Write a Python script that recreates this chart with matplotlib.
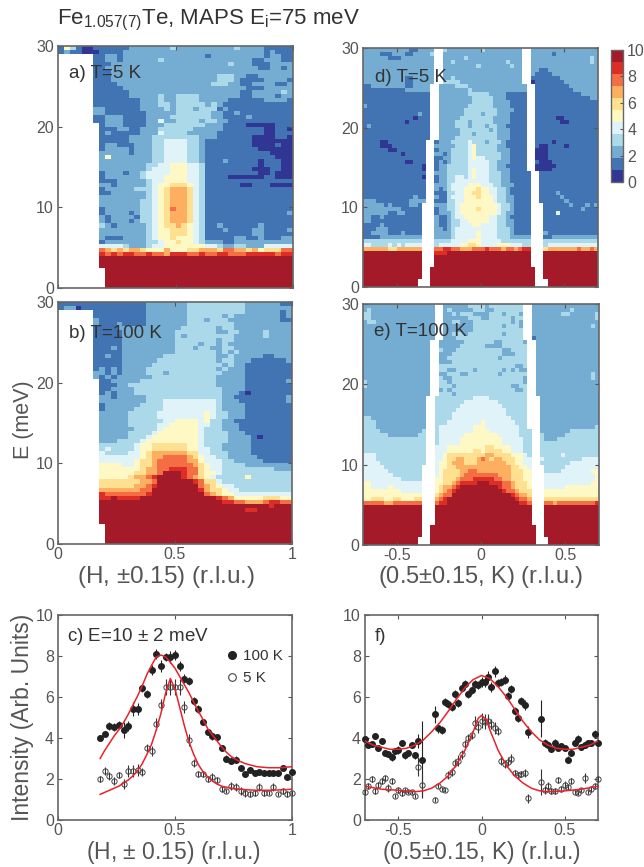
import numpy as np
import matplotlib
matplotlib.use("Agg")
import matplotlib.pyplot as plt
from matplotlib.colors import ListedColormap
from matplotlib.lines import Line2D

plt.rcParams['font.family'] = ['Liberation Sans', 'DejaVu Sans']
plt.rcParams['mathtext.fontset'] = 'custom'
plt.rcParams['mathtext.rm'] = 'Liberation Sans'
plt.rcParams['mathtext.default'] = 'regular'

# colour level per cell, top row is E=30 meV, '.' = no data, a = top level
map_a = [
"1531001111 1122222223 2222222222 3222211111",
"1211000111 1222222222 2222222222 2222212111",
"......1122 1222222222 2222212222 2222212211",
"......1122 1222222322 2222222222 2221122211",
"......1112 2222222222 2222222223 2221112222",
"......1122 2222222222 2222222222 2222112212",
"......1112 2222222222 2222222222 2222222222",
"......1112 2222222222 2222222333 2211222222",
"......1112 2222222222 2222222333 2111122221",
"......1111 2222222222 2222223332 2112222112",
"......1111 1222222222 2222222222 2211122222",
"......1111 1122222222 2222222222 2112222232",
"......1111 1122222322 3333222222 2112222122",
"......1111 1111222322 3333222221 1111122221",
"......1111 1111222332 3333323211 1111111111",
"......2211 1111222232 3332333121 1111111111",
"......2211 1111122222 3333332211 2111111111",
"......1122 2111122223 3333332211 1121111111",
"......1122 2111122422 3333233221 1111111111",
".......122 2111122233 3333322211 1100000111",
".......111 2211222333 3332222211 1111100110",
".......121 1111222433 3322222111 1111100111",
".......111 1122223333 3333222111 1110000110",
".......111 1122223344 4433211111 1110000000",
".......122 1112223344 4433211111 1110000100",
".......122 2212223344 4433211111 1111000000",
".......222 2212223344 4433211111 1111110000",
".......252 2222223344 4433211111 1111111000",
".......222 2222223344 4433211121 1111011100",
".......222 2222233445 5544311111 1111011100",
".......222 2222234445 5544311111 1110001100",
".......122 2122344445 5544311111 1111001000",
".......122 2222344455 5544311110 0000011000",
".......111 2222234455 5544311111 1111111111",
".......221 2222234556 6654311111 1001110000",
".......122 2223334567 7764311111 1111111111",
".......112 2222234567 7764311111 1111111111",
".......222 2222234567 7764311111 1111111111",
".......222 2222334567 7764311111 1111111111",
".......222 2222334567 7764311111 1111111111",
".......122 2222334568 7764311111 1111111111",
".......122 2212334567 7764311111 1111111112",
".......212 2221334567 7764311111 1111111111",
".......212 2212334567 7764311111 1111111111",
".......321 2222234566 7654311211 1111211111",
".......222 2222234556 6654311121 1112211112",
".......222 2222234556 6654311111 1112211111",
".......211 1222234556 5554311111 2211211122",
".......122 2222233455 6554322211 2222222222",
".......444 4322234455 5555544322 3322244444",
".......876 7677655575 5566777688 7767566688",
".......989 8998898879 9988988998 8899999899",
".......aaa aaaaaaaaaa aaaaaaaaaa aaaaaaaaaa",
".......aaa aaaaaaaaaa aaaaaaaaaa aaaaaaaaaa",
".......aaa aaaaaaaaaa aaaaaaaaaa aaaaaaaaaa",
"........aa aaaaaaaaaa aaaaaaaaaa aaaaaaaaaa",
"........aa aaaaaaaaaa aaaaaaaaaa aaaaaaaaaa",
"........aa aaaaaaaaaa aaaaaaaaaa aaaaaaaaaa",
"........aa aaaaaaaaaa aaaaaaaaaa aaaaaaaaaa",
"........aa aaaaaaaaaa aaaaaaaaaa aaaaaaaaaa",
]

map_b = [
"1111111111 1111122222 2233333333 3322222211",
"1220111111 1111122222 2233333333 3322222222",
"......1111 1111122222 2233333333 3322222212",
"......1111 1111122222 2233333323 2222222212",
"......2111 1111122222 2233323332 2222222211",
"......2111 2111122222 2233333333 2222222222",
"......1111 2222222222 2333333233 2222222222",
"......1111 1222222222 3333333223 3222232222",
"......1111 1222222222 3233333333 2222232222",
"......1111 1222222222 3333333233 2222222222",
"......1111 1222222222 3333233232 2222222222",
"......1112 1222222222 3332332233 2222222222",
"......1111 1222222222 3333333232 3222222222",
"......1121 1222222233 3333333223 2222211222",
"......1111 1222222333 3333333233 2221111112",
"......1111 1222223333 3333333323 2211111111",
"......1212 1222233333 3333333232 2211111111",
"......2212 1222233323 3333333322 2211111111",
"......2121 2222223333 3333333222 2211111111",
".......112 2222333333 3333333222 2211111112",
".......111 2233333333 3333333222 2211111111",
".......112 2223333333 3333333322 2211111111",
".......121 2223333333 3333333322 2101111111",
".......221 2222233333 3333333322 1111111112",
".......222 2222233344 4444444322 2111111112",
".......122 2222333344 4444444322 2211111111",
".......122 2223333344 4444444322 2211111111",
".......222 2233333444 4444454332 2211111111",
".......222 2233333444 4444454332 2211111111",
".......222 2233333344 5555453322 1111111111",
".......222 2233333445 5555443322 2111111111",
".......222 2223333455 5555433322 2111111111",
".......222 2233334555 5555433332 2211111111",
".......222 2233345555 5555433332 2221011111",
".......222 3333455555 5555433332 2221111111",
".......333 3334556666 6655433322 2221111111",
".......343 3334556666 6655443322 2221111111",
".......433 3344567777 7766443332 2221111111",
".......444 4444567788 8876544332 2222111111",
".......444 4445667888 8877544433 2222211111",
".......555 5445667888 8887654433 3322222222",
".......555 5555677889 9988654433 3333333222",
".......555 5556677 8aa a98865 5433 3333333333",
".......555 5567789 aa aa9876 5433 3 3353333333",
".......666 666677 8aaa aaa986 6433 3333333333",
".......666 666778 9aaa aaaa87 6544 3333333333",
".......777 777788 aaaa aaaa97 6654 4333333333",
".......988 888889 aaaa aaaaa8 7655 4444444444",
".......99a 9999aa aaaa aaaaaa a987 5555566655",
".......aaa aaaaaaaaaa aaaaaaaa 99 8877789 98",
".......aaa aaaaaaaaaa aaaaaaaaaa aaaaaa9aaa",
".......aaa aaaaaaaaaa aaaaaaaaaa aa99aaaaaa",
".......aaa aaaaaaaaaa aaaaaaaaaa aaaaaaaaaa",
".......aaa aaaaaaaaaa aaaaaaaaaa aaaaaaaaaa",
".......aaa aaaaaaaaaa aaaaaaaaaa aaaaaaaaaa",
"........aa aaaaaaaaaa aaaaaaaaaa aaaaaaaaaa",
"........aa aaaaaaaaaa aaaaaaaaaa aaaaaaaaaa",
"........aa aaaaaaaaaa aaaaaaaaaa aaaaaaaaaa",
"........aa aaaaaaaaaa aaaaaaaaaa aaaaaaaaaa",
"........aa aaaaaaaaaa aaaaaaaaaa aaaaaaaaaa",
]

map_d = [
"2222222222 2112222223 2222222232 2222222222 2222222222 222222",
"2222111222 1122223222 2222222222 2222222222 2222212222 222222",
"2222221112 2222222222 2222322222 2222222222 2222222222 222232",
"2222222222 2222222222 2322222222 2222322222 2222222222 222232",
"2222222222 2222222232 2222222322 2222232222 2222222222 222222",
"2222222222 2222222222 2222222222 2222222222 2211222222 222222",
"2222222222 2222222222 2222222222 2222222222 2111122222 222222",
"2222222222 1122222222 2322222222 2222222222 1111111222 222222",
"2222222222 1122222223 3332222222 2222222222 0111111122 222222",
"1122222222 1122222222 2233322222 2222222222 1111111112 222222",
"1111111111 2222222222 2222232222 2222222222 1111111111 222222",
"1111111111 1111112222 2222233333 2222111111 1111111111 112222",
"1111111111 1111111222 2222223333 3222111111 1111111111 111122",
"1111111111 1111111222 2222223333 3222211111 1111111111 111111",
"2111111111 1111111222 2222233333 3222211111 1111111111 111111",
"1111111111 1111111222 2222333333 3322221111 1111111111 111111",
"1111111111 1112110222 2222333323 3322211111 1111111111 111111",
"1111111111 1101110122 2223333333 3222211111 1111110011 111111",
"1111111111 0111110122 2233323333 3222211111 1111111001 111111",
"1211111111 1111110122 2233323332 3322111111 1111111111 111111",
"1111111111 1111110122 2223333333 2322211111 1111111111 111111",
"1111111111 1111110122 2223332333 3322211111 1111111111 111111",
"1111111111 1111110122 2233333333 3322211111 1111111111 111111",
"1111001111 1111110122 2333343332 3332111111 1111101111 111111",
"1111000111 1111111222 2233345333 3322111111 1100111101 111111",
"1111110011 1111111122 2333345333 3322211111 0000111111 111111",
"1111111110 1111111221 2333345333 3332211111 1000111111 111111",
"1111111111 1111111112 2333345443 3332211111 1000111111 111111",
"1111111111 0011111121 2333344444 3322211111 1100011111 111111",
"1111111111 1111011122 3333344444 3322111111 1000001111 111111",
"1111111111 1111011122 3333345444 3322211111 1000011111 111111",
"1111111111 1111111222 3333345444 3332211111 1111111111 111111",
"1111111111 1111011122 3344345444 3332211111 1111111111 111111",
"1111111111 1111111122 3344444444 3332211111 1111111111 111111",
"1111111111 1111111222 3444455544 4332221111 1111111111 111111",
"1111111111 1111111212 3444555655 4433211111 1111111111 111111",
"1111111111 1111122111 3344556655 4433211111 1111112111 111111",
"1111111111 1121122211 3444555655 5433221111 1111111211 111111",
"2221111111 1222221111 3344555555 5433221111 1111111121 111111",
"2222212111 1221111222 3345555555 5543321111 1111111112 111212",
"2222222221 1111111122 3345555655 5543321111 1111111111 112111",
"2222221122 1111111122 2345555555 5543221111 1111114111 111111",
"2211211111 1111111211 2344555555 4433211111 1111111111 111111",
"2211111111 1111111211 2334455555 4433221111 1111111111 111111",
"1111211111 1111111211 2334445544 4433221111 1111111111 111111",
"1112221111 1111112221 2344444444 4433321111 1111111111 111111",
"1122221112 1111112222 2344444544 4433321111 1112111111 111111",
"1111222222 2222222222 2344444544 4433322222 2211122222 222222",
"3333333333 3333333333 3444455544 4443333333 3333333333 333333",
"4433334343 4444333344 4445566544 4455544433 3343444444 444444",
"7777776677 7777777889 9887778889 8887887899 8876777777 787787",
"aaaaaaaaaa aaaaa99999 aaaaaaaaaa aaaaaaaaaa 9aaaaaaaaa aaaaaa",
"aaaaaaaaaa aaaaaaaaaa aaaaaaaaaa aaaaaaaaaa aaaaaaaaaa aaaaaa",
"aaaaaaaaaa aaaaaaaaaa aaaaaaaaaa aaaaaaaaaa aaaaaaaaaa aaaaaa",
"aaaaaaaaaa aaaaaaaaaa aaaaaaaaaa aaaaaaaaaa aaaaaaaaaa aaaaaa",
"aaaaaaaaaa aaaaaaaaaa aaaaaaaaaa aaaaaaaaaa aaaaaaaaaa aaaaaa",
"aaaaaaaaaa aaaaaaaaaa aaaaaaaaaa aaaaaaaaaa aaaaaaaaaa aaaaaa",
"aaaaaaaaaa aaaaaaaaaa aaaaaaaaaa aaaaaaaaaa aaaaaaaaaa aaaaaa",
"aaaaaaaaaa aaaaaaaaaa aaaaaaaaaa aaaaaaaaaa aaaaaaaaaa aaaaaa",
"aaaaaaaaaa aaaaaaaaaa aaaaaaaaaa aaaaaaaaaa aaaaaaaaaa aaaaaa",
]

map_e = [
"2222222222 2222222222 2222233332 3333333322 2222222222 222222",
"2322222222 2222222222 3222223332 2333333322 2222222223 222222",
"3322222222 2222222222 2323332222 3332333222 2222222332 222223",
"3322222222 2222222222 2222233322 3333323322 2222222222 222223",
"2332222222 2222222222 2332223333 3333323222 2222222222 222222",
"2222222222 2222222222 2222223333 3332333222 2222222222 222232",
"2222222222 2222222222 2222223333 3333333322 2222222222 222222",
"2222222222 2222222222 2333233333 3332333322 2222222222 222222",
"2222222222 2222222a22 2233333333 3333333322 1222222222 222222",
"2222222222 2222222222 2222333333 3223333322 2222222222 222222",
"2222222222 2222222222 2223333332 2223333332 2222222222 222222",
"2222222222 2222222232 2233333333 3332233333 2222222222 222222",
"2222222222 2222222222 2333333333 3332223332 2222222222 222222",
"2222222222 2222222222 3333333333 3323333333 2222222222 222222",
"2222222222 2222222222 2333333333 3333333332 2222222222 222222",
"2222222222 2222222233 3333333333 3333332232 2222222222 222222",
"2222222222 2222222233 2233332333 3332323222 2222222222 222222",
"2222222222 2222223322 3332233333 3323333332 2222222222 222232",
"2222222222 2222221332 2333333333 3333333322 2222222222 222232",
"3222222222 2222222233 2333333333 3333333322 2222222222 222222",
"3222222222 2222222333 3233333333 3333322332 2222222222 222222",
"2222222222 2222222323 2333333333 3333332233 1222222222 222222",
"2222222222 2222222333 3233333333 3333333332 2222222222 222222",
"2222222222 2222223333 3333334444 3333333333 2222222222 222222",
"2222222222 2222223333 3333444444 4433333333 3222222222 222222",
"2222222222 2222223333 3334444444 4443333333 3222222222 222222",
"2222222222 2222223333 3344444444 4444333333 3322222222 222222",
"2222222222 2222223333 3444444444 4444333333 3322222222 222222",
"3322222222 2222223333 3444444444 4444433333 3322222222 222222",
"3332222222 2222223333 4444444454 4444443333 3322222222 222222",
"3332222222 2222233344 4444445554 4444444333 3322222222 222223",
"3333222222 2222333344 4444445555 4444444333 3322222223 333333",
"3333332222 2223333344 4444555555 5544444333 3332222233 333333",
"3333333333 3333333344 4445555555 5554444433 3332223333 333333",
"3333333333 3333333344 4445555555 5554444433 3333333333 333333",
"3333333333 3333333444 5555555556 6555544433 3333333333 333333",
"3333333333 3333333444 5555556656 6665544433 3333333333 333333",
"4443333333 3333333445 6666666667 7666655543 3333333433 333333",
"4443333333 3333333445 6677666787 6776665544 3343333333 334444",
"4444333333 3333333455 6777666777 7777665544 4333333334 444444",
"4444433333 3333332455 6677777777 7777766554 4433333344 444444",
"4444443333 3333333456 6667788777 7777766655 4443333444 444455",
"4444444333 3333334456 6667888888 8877766655 4444444444 444445",
"4444444443 3333344556 6678889999 9887766655 4444444444 444445",
"5544444444 4444444556 6789999aaa 9998876665 4444444444 444455",
"5544445444 4444445567 789aaaaaaa aa98876665 5444444455 555555",
"5555555554 4444555567 89aaaaaaaa aaa9887666 5555555555 555555",
"5555555555 5555555678 8aaaaaaaaa aaaaa98776 5555555555 555555",
"5566655665 5566666789 aaaaaaaaaa aaaaaa9887 7666666666 666666",
"8888877888 8888888899 aaaaaaaaaa aaaaaaa998 8888878888 888889",
"aaaaaaaaaa aaaaaaaaaa aaaaaaaaaa aaaaaaaaaa aaaaaaaaaa aaaaaa",
"aaaaaaaaaa aaaaaaaaaa aaaaaaaaaa aaaaaaaaaa aaaaaaaaaa aaaaaa",
"aaaaaaaaaa aaaaaaaaaa aaaaaaaaaa aaaaaaaaaa aaaaaaaaaa aaaaaa",
"aaaaaaaaaa aaaaaaaaaa aaaaaaaaaa aaaaaaaaaa aaaaaaaaaa aaaaaa",
"aaaaaaaaaa aaaaaaaaaa aaaaaaaaaa aaaaaaaaaa aaaaaaaaaa aaaaaa",
"aaaaaaaaaa aaaaaaaaaa aaaaaaaaaa aaaaaaaaaa aaaaaaaaaa aaaaaa",
"aaaaaaaaaa aaaaaaaaaa aaaaaaaaaa aaaaaaaaaa aaaaaaaaaa aaaaaa",
"aaaaaaaaaa aaaaaaaaaa aaaaaaaaaa aaaaaaaaaa aaaaaaaaaa aaaaaa",
"aaaaaaaaaa aaaaaaaaaa aaaaaaaaaa aaaaaaaaaa aaaaaaaaaa aaaaaa",
"aaaaaaaaaa aaaaaaaaaa aaaaaaaaaa aaaaaaaaaa aaaaaaaaaa aaaaaa",
]

# detector gaps in the K maps: first row, last row, first col, last col
gaps_d = [(0, 8, 17, 18), (0, 8, 38, 39), (9, 22, 16, 17), (9, 30, 39, 40),
          (23, 38, 15, 16), (31, 38, 40, 41), (39, 54, 14, 16), (39, 54, 40, 42),
          (55, 57, 14, 15), (55, 57, 41, 42), (58, 59, 13, 15), (58, 59, 41, 43)]
gaps_e = [(0, 8, 17, 18), (0, 8, 38, 39), (9, 22, 16, 17), (9, 22, 39, 40),
          (23, 39, 15, 16), (23, 30, 39, 41), (31, 39, 40, 41), (40, 54, 14, 16),
          (40, 54, 40, 42), (55, 57, 14, 15), (55, 57, 41, 42), (58, 59, 13, 15),
          (58, 59, 41, 43)]

colors = ['#313695', '#4273b3', '#74add1', '#abd9e9', '#e0f3f8', '#fdf8c4',
          '#fee090', '#fdae61', '#f46d43', '#dc2e26', '#a51a28']

# panel c
h_pts = [0.18, 0.20, 0.22, 0.24, 0.26, 0.28, 0.30, 0.32, 0.34, 0.36, 0.38, 0.40, 0.42, 0.44,
         0.46, 0.48, 0.50, 0.52, 0.54, 0.56, 0.58, 0.60, 0.62, 0.64, 0.66, 0.68, 0.70, 0.72,
         0.74, 0.76, 0.78, 0.80, 0.82, 0.84, 0.86, 0.88, 0.90, 0.92, 0.94, 0.96, 0.98, 1.00]
c_100 = [4.0, 4.2, 4.6, 4.55, 4.65, 4.4, 4.6, 5.4, 5.4, 6.45, 6.15, 7.3, 8.1, 7.5,
         7.95, 7.95, 8.05, 7.5, 6.9, 6.8, 5.8, 5.4, 4.8, 4.3, 4.1, 4.05, 3.5, 3.0,
         2.9, 2.95, 2.55, 2.25, 2.45, 2.3, 2.35, 2.3, 2.3, 2.3, 2.3, 2.55, 2.1, 2.35]
c_100_err = [0.15, 0.15, 0.2, 0.2, 0.2, 0.4, 0.25, 0.35, 0.3, 0.2, 0.2, 0.25, 0.25, 0.3,
             0.2, 0.3, 0.25, 0.25, 0.2, 0.2, 0.2, 0.2, 0.15, 0.15, 0.2, 0.15, 0.15, 0.15,
             0.15, 0.15, 0.15, 0.1, 0.1, 0.1, 0.1, 0.1, 0.1, 0.1, 0.1, 0.1, 0.1, 0.1]
c_5 = [2.0, 2.4, 2.15, 1.9, 2.2, 1.75, 2.4, 2.4, 2.45, 2.35, 3.5, 3.35, 4.7, 5.6,
       6.5, 6.5, 6.5, 6.5, 5.5, 3.9, 2.8, 2.25, 2.25, 2.0, 2.1, 1.95, 1.5, 1.4,
       1.65, 1.6, 1.4, 1.3, 1.25, 1.3, 1.6, 1.3, 1.3, 1.6, 1.25, 1.4, 1.25, 1.3]
c_5_err = [0.15, 0.2, 0.2, 0.2, 0.15, 0.25, 0.3, 0.3, 0.3, 0.2, 0.2, 0.25, 0.3, 0.3,
           0.4, 0.4, 0.4, 0.4, 0.3, 0.3, 0.2, 0.15, 0.15, 0.15, 0.2, 0.15, 0.15, 0.1,
           0.2, 0.2, 0.2, 0.2, 0.15, 0.15, 0.2, 0.15, 0.1, 0.2, 0.1, 0.15, 0.15, 0.1]
c_fit_x = [0.18, 0.20, 0.22, 0.24, 0.26, 0.28, 0.30, 0.32, 0.34, 0.36, 0.38, 0.40, 0.42, 0.44,
           0.46, 0.48, 0.50, 0.52, 0.54, 0.56, 0.58, 0.60, 0.62, 0.64, 0.66, 0.68, 0.70, 0.72,
           0.74, 0.76, 0.80, 0.85, 0.90, 0.95, 1.00]
c_fit_100 = [3.0, 3.4, 3.75, 4.1, 4.4, 4.75, 5.15, 5.6, 6.05, 6.55, 7.1, 7.55, 7.95, 8.05,
             7.95, 7.7, 7.4, 7.0, 6.6, 6.2, 5.75, 5.3, 4.9, 4.45, 4.15, 3.85, 3.55, 3.3,
             3.1, 2.95, 2.75, 2.6, 2.55, 2.55, 2.6]
c_fit_5 = [1.25, 1.35, 1.45, 1.55, 1.65, 1.8, 1.95, 2.15, 2.4, 2.75, 3.2, 3.7, 4.4, 5.2,
           6.2, 6.9, 6.4, 5.5, 4.6, 3.8, 3.2, 2.7, 2.35, 2.1, 1.9, 1.75, 1.65, 1.6,
           1.55, 1.52, 1.48, 1.45, 1.45, 1.47, 1.5]

# panel f
k_pts = [-0.70, -0.68, -0.66, -0.64, -0.62, -0.60, -0.58, -0.56, -0.54, -0.52, -0.50, -0.48,
         -0.46, -0.44, -0.42, -0.40, -0.38, -0.36, -0.28, -0.26, -0.24, -0.22, -0.20, -0.18,
         -0.16, -0.14, -0.12, -0.10, -0.08, -0.06, -0.04, -0.02, 0.00, 0.02, 0.04, 0.06,
         0.08, 0.10, 0.12, 0.14, 0.16, 0.18, 0.20, 0.22, 0.24, 0.26, 0.28, 0.36, 0.38, 0.40,
         0.42, 0.44, 0.46, 0.48, 0.50, 0.52, 0.54, 0.56, 0.58, 0.60, 0.62, 0.64, 0.66, 0.68, 0.70]
f_100 = [3.95, 3.65, 3.7, 4.1, 3.5, 3.85, 3.25, 3.2, 3.05, 3.35, 3.4, 3.75,
         3.15, 3.25, 3.65, 3.15, 3.85, 2.95, 5.15, 4.5, 4.4, 5.75, 5.65, 5.5,
         6.15, 5.7, 6.45, 6.65, 6.15, 6.35, 6.65, 6.6, 6.75, 6.75, 7.0, 6.5,
         7.25, 6.7, 6.75, 6.85, 6.05, 6.4, 5.3, 5.0, 5.8, 5.6, 4.3, 4.95, 3.75, 3.65,
         3.45, 3.75, 3.5, 3.6, 3.5, 2.95, 3.25, 3.75, 3.95, 3.55, 3.65, 3.75, 3.75, 4.2, 3.75]
f_100_err = [0.15, 0.15, 0.15, 0.15, 0.15, 0.15, 0.15, 0.15, 0.15, 0.15, 0.2, 0.15,
             0.15, 0.15, 0.15, 0.15, 0.35, 1.9, 0.4, 0.25, 0.2, 0.2, 0.2, 0.2,
             0.2, 0.2, 0.2, 0.2, 0.2, 0.2, 0.2, 0.2, 0.25, 0.25, 0.25, 0.25,
             0.25, 0.2, 0.2, 0.2, 0.2, 0.2, 0.2, 0.2, 0.2, 0.25, 0.3, 0.9, 0.2, 0.15,
             0.15, 0.2, 0.15, 0.15, 0.15, 0.15, 0.15, 0.15, 0.2, 0.15, 0.15, 0.15, 0.15, 0.2, 0.15]
f_5 = [1.35, 1.65, 2.0, 1.4, 1.7, 1.9, 2.05, 1.55, 1.9, 1.15, 1.45, 1.3,
       1.45, 1.35, 1.35, 1.15, 2.6, 1.7, 1.0, 1.65, 1.5, 1.45, 2.2, 2.35,
       2.8, 2.9, 3.2, 3.7, 4.0, 4.15, 4.75, 4.55, 4.85, 4.8, 4.85, 4.7,
       4.5, 4.35, 2.9, 2.75, 2.85, 3.0, 2.3, 2.2, 2.25, 2.3, 1.05, 1.85, 1.45, 1.65,
       1.4, 1.4, 1.95, 1.5, 1.7, 1.6, 1.9, 1.35, 1.3, 1.45, 2.05, 1.35, 1.5, 1.65, 2.0]
f_5_err = [0.15, 0.15, 0.15, 0.15, 0.15, 0.15, 0.15, 0.2, 0.15, 0.1, 0.15, 0.15,
           0.1, 0.1, 0.1, 0.1, 0.45, 0.6, 0.1, 0.1, 0.1, 0.1, 0.2, 0.2,
           0.2, 0.25, 0.2, 0.2, 0.2, 0.2, 0.3, 0.3, 0.35, 0.35, 0.3, 0.25,
           0.3, 0.2, 0.2, 0.2, 0.2, 0.2, 0.15, 0.15, 0.15, 0.2, 0.2, 0.65, 0.2, 0.2,
           0.15, 0.15, 0.15, 0.15, 0.2, 0.15, 0.15, 0.1, 0.1, 0.1, 0.25, 0.1, 0.15, 0.15, 0.15]
f_fit_x = [-0.70, -0.65, -0.60, -0.55, -0.50, -0.45, -0.40, -0.35, -0.30, -0.25, -0.20, -0.15,
           -0.10, -0.05, 0.00, 0.05, 0.10, 0.15, 0.20, 0.25, 0.30, 0.35, 0.40, 0.45, 0.50,
           0.55, 0.60, 0.65, 0.70]
f_fit_100 = [3.85, 3.65, 3.55, 3.45, 3.45, 3.5, 3.65, 3.9, 4.3, 4.75, 5.3, 5.9,
             6.45, 6.85, 7.05, 6.9, 6.5, 6.0, 5.4, 4.8, 4.3, 3.9, 3.65, 3.5, 3.45,
             3.45, 3.55, 3.65, 3.85]
f_fit_5_x = [-0.70, -0.60, -0.50, -0.40, -0.35, -0.30, -0.25, -0.20, -0.15, -0.10, -0.05, -0.02,
             0.00, 0.03, 0.05, 0.10, 0.15, 0.20, 0.25, 0.30, 0.35, 0.40, 0.50, 0.60, 0.70]
f_fit_5 = [1.65, 1.5, 1.45, 1.38, 1.42, 1.55, 1.8, 2.15, 2.7, 3.4, 4.3, 4.95,
           5.1, 4.9, 4.4, 3.4, 2.65, 2.15, 1.8, 1.55, 1.42, 1.38, 1.42, 1.5, 1.65]

W, H = 644, 867
GREY = '#555555'
INK = '#333333'


def px_axes(fig, x0, y0, x1, y1):
    return fig.add_axes([x0 / W, 1 - y1 / H, (x1 - x0) / W, (y1 - y0) / H])


def parse_map(rows, gaps=()):
    rows = [r.replace(' ', '') for r in rows]
    ncol = max(len(r) for r in rows)
    arr = np.full((len(rows), ncol), np.nan)
    for i, r in enumerate(rows):
        for j, ch in enumerate(r.ljust(ncol, r[-1])):
            if ch != '.':
                # centre of the colour bin
                arr[i, j] = (int(ch, 16) + 0.5) * 10 / 11
    for r0, r1, c0, c1 in gaps:
        arr[r0:r1 + 1, c0:c1 + 1] = np.nan
    return arr[::-1]


def style_axes(ax, xticks, yticks, xlabels=True):
    ax.set_xticks(xticks)
    ax.set_yticks(yticks)
    if not xlabels:
        ax.set_xticklabels([])
    ax.tick_params(direction='in', top=True, right=True, length=3, width=0.8,
                   color='#555555', labelcolor=GREY, labelsize=11.5, pad=3)
    ax.tick_params(axis='x', pad=2)
    for s in ax.spines.values():
        s.set_color('#666666')
        s.set_linewidth(1.2)


def draw_map(ax, rows, x_range, gaps=()):
    data = parse_map(rows, gaps)
    xe = np.linspace(x_range[0], x_range[1], data.shape[1] + 1)
    ye = np.linspace(0, 30, data.shape[0] + 1)
    return ax.pcolormesh(xe, ye, data, cmap=ListedColormap(colors), vmin=0, vmax=10)


fig = plt.figure(figsize=(W / 100, H / 100), dpi=100)

ax_a = px_axes(fig, 58, 46, 293, 288)
ax_d = px_axes(fig, 363, 48, 598, 287)
ax_b = px_axes(fig, 58, 302, 292, 544)
ax_e = px_axes(fig, 363, 304, 599, 545)
ax_c = px_axes(fig, 58, 615, 292, 820)
ax_f = px_axes(fig, 365, 615, 598, 820)

draw_map(ax_a, map_a, (0, 1))
mesh = draw_map(ax_d, map_d, (-0.7, 0.7), gaps_d)
draw_map(ax_b, map_b, (0, 1))
draw_map(ax_e, map_e, (-0.7, 0.7), gaps_e)

style_axes(ax_a, [0, 0.5, 1], [0, 10, 20, 30], xlabels=False)
style_axes(ax_b, [0, 0.5, 1], [0, 10, 20, 30])
style_axes(ax_d, [-0.5, 0, 0.5], [0, 10, 20, 30], xlabels=False)
style_axes(ax_e, [-0.5, 0, 0.5], [0, 10, 20, 30])
ax_b.set_xticklabels(['0', '0.5', '1'])
ax_e.set_xticklabels(['-0.5', '0', '0.5'])

ax_a.text(0.045, 0.885, 'a) T=5 K', transform=ax_a.transAxes, fontsize=13.5, color=INK, va='center')
ax_b.text(0.045, 0.868, 'b) T=100 K', transform=ax_b.transAxes, fontsize=13.5, color=INK, va='center')
ax_d.text(0.05, 0.875, 'd) T=5 K', transform=ax_d.transAxes, fontsize=13.5, color=INK, va='center')
ax_e.text(0.045, 0.885, 'e) T=100 K', transform=ax_e.transAxes, fontsize=13.5, color=INK, va='center')

cax = px_axes(fig, 611, 50, 623, 182)
cb = fig.colorbar(mesh, cax=cax, ticks=[0, 2, 4, 6, 8, 10])
cb.ax.tick_params(direction='in', length=2, color='#555555', labelcolor=GREY, labelsize=11.5, pad=3)
cb.outline.set_edgecolor('#666666')
cb.outline.set_linewidth(1.0)


def draw_cut(ax, x, hot, hot_err, cold, cold_err):
    ax.errorbar(x, hot, yerr=hot_err, fmt='o', ms=4, mfc='#222222', mec='#222222',
                ecolor='#222222', elinewidth=0.8, capsize=0, clip_on=False, zorder=3)
    ax.errorbar(x, cold, yerr=cold_err, fmt='o', ms=3.8, mfc='none', mec='#444444', mew=0.7,
                ecolor='#333333', elinewidth=0.8, capsize=0, clip_on=False, zorder=3)


draw_cut(ax_c, h_pts, c_100, c_100_err, c_5, c_5_err)
ax_c.plot(c_fit_x, c_fit_100, color='#e8222c', lw=1.1, zorder=4)
ax_c.plot(c_fit_x, c_fit_5, color='#e8222c', lw=1.1, zorder=4)
ax_c.set_xlim(0, 1)
ax_c.set_ylim(0, 10)
style_axes(ax_c, [0, 0.5, 1], [0, 2, 4, 6, 8, 10])
ax_c.set_xticklabels(['0', '0.5', '1'])
ax_c.text(0.04, 0.895, 'c) E=10 $\\pm$ 2 meV', transform=ax_c.transAxes, fontsize=13.5, color=INK, va='center')
handles = [Line2D([], [], ls='', marker='o', ms=5.5, mfc='#222222', mec='#222222'),
           Line2D([], [], ls='', marker='o', ms=5.5, mfc='none', mec='#444444', mew=0.8)]
ax_c.legend(handles, ['100 K', '5 K'], loc='upper left', bbox_to_anchor=(0.705, 0.84), frameon=False,
            fontsize=11, handlelength=1, handletextpad=0.2, labelspacing=0.5, labelcolor=INK,
            borderpad=0.1, borderaxespad=0)

draw_cut(ax_f, k_pts, f_100, f_100_err, f_5, f_5_err)
ax_f.plot(f_fit_x, f_fit_100, color='#e8222c', lw=1.1, zorder=4)
ax_f.plot(f_fit_5_x, f_fit_5, color='#e8222c', lw=1.1, zorder=4)
ax_f.set_xlim(-0.7, 0.7)
ax_f.set_ylim(0, 10)
style_axes(ax_f, [-0.5, 0, 0.5], [0, 2, 4, 6, 8, 10])
ax_f.set_xticklabels(['-0.5', '0', '0.5'])
ax_f.text(0.04, 0.895, 'f)', transform=ax_f.transAxes, fontsize=13.5, color=INK, va='center')

fig.text(57 / W, 1 - 20 / H, 'Fe$_{1.057(7)}$Te, MAPS E$_{i}$=75 meV', fontsize=16, color=INK, va='center')
fig.text(23 / W, 1 - 420 / H, 'E (meV)', fontsize=15.5, color=GREY, rotation=90, ha='center', va='center')
fig.text(23 / W, 1 - 717 / H, 'Intensity (Arb. Units)', fontsize=16.5, color=GREY, rotation=90, ha='center', va='center')
fig.text(166 / W, 1 - 577 / H, '(H, $\\pm$0.15) (r.l.u.)', fontsize=17.5, color=GREY, ha='center', va='center')
fig.text(481 / W, 1 - 577 / H, '(0.5$\\pm$0.15, K) (r.l.u.)', fontsize=17, color=GREY, ha='center', va='center')
fig.text(173 / W, 1 - 853 / H, '(H, $\\pm$ 0.15) (r.l.u.)', fontsize=16.5, color=GREY, ha='center', va='center')
fig.text(481 / W, 1 - 853 / H, '(0.5$\\pm$0.15, K) (r.l.u.)', fontsize=16.5, color=GREY, ha='center', va='center')

fig.savefig('out.png', dpi=100)
